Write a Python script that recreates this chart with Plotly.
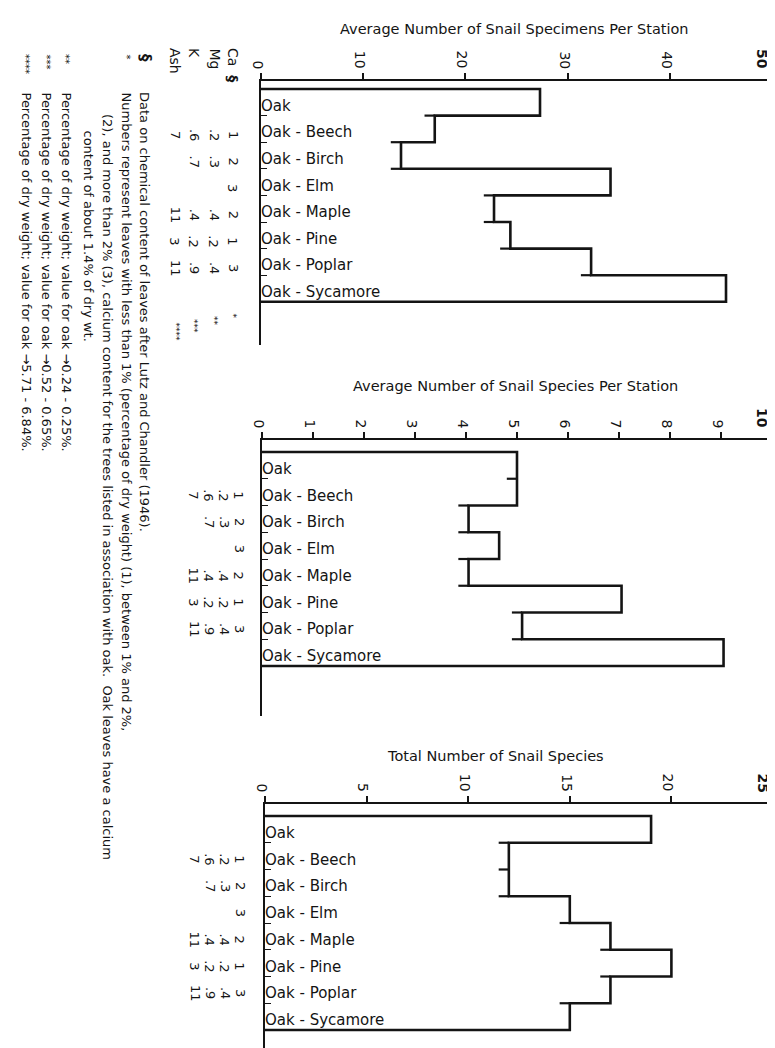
import plotly.graph_objects as go

W, H = 775, 1048
FONT = "DejaVu Sans"
INK = "#141414"

# ---------------- data ----------------
categories = ["Oak", "Oak - Beech", "Oak - Birch", "Oak - Elm",
              "Oak - Maple", "Oak - Pine", "Oak - Poplar", "Oak - Sycamore"]
specimens_per_station = [27.3, 17.0, 13.7, 34.2, 22.8, 24.4, 32.3, 45.5]
species_per_station = [5.0, 5.0, 4.05, 4.65, 4.05, 7.05, 5.1, 9.05]
total_species = [19, 12, 12, 15, 17, 20, 17, 15]

ticks_specimens = [0, 10, 20, 30, 40, 50]
ticks_species = [0, 1, 2, 3, 4, 5, 6, 7, 8, 9, 10]
ticks_total = [0, 5, 10, 15, 20, 25]

titles = ["Average Number of Snail Specimens Per Station",
          "Average Number of Snail Species Per Station",
          "Total Number of Snail Species"]

# chemical content of leaves (per category row)
ca = ["", "1", "2", "3", "2", "1", "3", ""]
mg = ["", ".2", ".3", "", ".4", ".2", ".4", ""]
k_ = ["", ".6", ".7", "", ".4", ".2", ".9", ""]
ash = ["", "7", "", "", "11", "3", "11", ""]
chem_headers = ["Ca  <b>§</b>", "Mg", "K", "Ash"]
chem_marks = ["*", "**", "***", "****"]

notes = [
    ("<b>§</b>", "Data on chemical content of leaves after Lutz and Chandler (1946)."),
    ("*", "Numbers represent leaves with less than 1% (percentage of dry weight) (1), between 1% and 2%,"),
    ("", "(2), and more than 2% (3), calcium content for the trees listed in association with oak.  Oak leaves have a calcium"),
    ("", "content of about 1.4% of dry wt."),
    ("**", "Percentage of dry weight; value for oak \u21920.24 - 0.25%."),
    ("***", "Percentage of dry weight; value for oak \u21920.52 - 0.65%."),
    ("****", "Percentage of dry weight; value for oak \u21925.71 - 6.84%."),
]

# ---------------- layout geometry (pixels) ----------------
panels = [
    dict(vals=specimens_per_station, ticks=ticks_specimens, xmax=50,
         x0=253, x1=764, axis_y=73, top=81, h=26.6, end=337, tx=506, ty=21,
         cols=[225, 206, 186, 167], dy=6),
    dict(vals=species_per_station, ticks=ticks_species, xmax=10,
         x0=254, x1=764, axis_y=432, top=444, h=26.75, end=708, tx=507, ty=378,
         cols=[231, 216, 201, 186], dy=3),
    dict(vals=total_species, ticks=ticks_total, xmax=25,
         x0=257, x1=765, axis_y=796, top=808, h=26.75, end=1048, tx=487, ty=748,
         cols=[232, 217, 202, 187], dy=3),
]

fig = go.Figure()


def px_x(x):
    return x / W


def px_y(y):
    return 1 - y / H


def rot(x, y, text, size=14, yanchor="middle", xanchor="center"):
    fig.add_annotation(x=px_x(x), y=px_y(y), xref="paper", yref="paper",
                       text=text, textangle=90, showarrow=False,
                       xanchor=xanchor, yanchor=yanchor,
                       font=dict(family=FONT, size=size, color=INK))


layout_axes = {}
for i, p in enumerate(panels, start=1):
    xa = "x" if i == 1 else f"x{i}"
    ya = "y" if i == 1 else f"y{i}"
    v = p["vals"]
    n = len(v)

    # stepped outline of the bars
    xs, ys = [0], [-0.5]
    for j, val in enumerate(v):
        xs += [val, val]
        ys += [j - 0.5, j + 0.5]
    xs.append(0)
    ys.append(n - 0.5)
    fig.add_trace(go.Scatter(x=xs, y=ys, mode="lines",
                             line=dict(color=INK, width=2.6),
                             xaxis=xa, yaxis=ya, hoverinfo="skip", showlegend=False))

    # small overshoots at the steps
    d = 0.02 * p["xmax"]
    sx, sy = [], []
    for j in range(n - 1):
        m = min(v[j], v[j + 1])
        sx += [m - d, m, None]
        sy += [j + 0.5, j + 0.5, None]
    fig.add_trace(go.Scatter(x=sx, y=sy, mode="lines",
                             line=dict(color=INK, width=2.2),
                             xaxis=xa, yaxis=ya, hoverinfo="skip", showlegend=False))

    # category labels
    fig.add_trace(go.Scatter(x=[0] * n, y=[j + 0.18 for j in range(n)], mode="text",
                             text=categories, textposition="middle right",
                             textfont=dict(family=FONT, size=15, color=INK),
                             cliponaxis=False,
                             xaxis=xa, yaxis=ya, hoverinfo="skip", showlegend=False))

    ytop = -0.5 - (p["top"] - p["axis_y"]) / p["h"]
    ybot = -0.5 + (p["end"] - p["top"]) / p["h"]

    layout_axes["xaxis" if i == 1 else f"xaxis{i}"] = dict(
        domain=[px_x(p["x0"]), px_x(p["x1"])], range=[0, p["xmax"]],
        side="top", anchor=ya, showline=True, linecolor=INK, linewidth=2,
        ticks="outside", ticklen=6, tickwidth=1.5, tickcolor=INK,
        tickvals=p["ticks"], showticklabels=False,
        showgrid=False, zeroline=False, fixedrange=True)
    layout_axes["yaxis" if i == 1 else f"yaxis{i}"] = dict(
        domain=[max(0, px_y(p["end"])), px_y(p["axis_y"])], range=[ybot, ytop],
        anchor=xa, showline=True, linecolor=INK, linewidth=1.6,
        ticks="inside", ticklen=6, tickwidth=1.2, tickcolor=INK,
        tickvals=[j + 0.5 for j in range(n - 1)], showticklabels=False,
        showgrid=False, zeroline=False, fixedrange=True)

    # rotated tick labels, centred on the ticks
    for t in p["ticks"]:
        last = t == p["ticks"][-1]
        fig.add_annotation(x=t, xref=xa, y=px_y(p["axis_y"] - 11), yref="paper",
                           text=f"<b>{t}</b>" if last else str(t),
                           textangle=90, showarrow=False,
                           xanchor="center", yanchor="bottom",
                           xshift=-10 if last else -3, borderpad=0,
                           font=dict(family=FONT, size=14, color=INK))

    # panel title
    fig.add_annotation(x=px_x(p["tx"]), y=px_y(p["ty"]), xref="paper", yref="paper",
                       text=titles[i - 1], showarrow=False, xanchor="center", yanchor="middle",
                       font=dict(family=FONT, size=14.5, color=INK))

    # chemical content table beside the panel
    for col, series in zip(p["cols"], [ca, mg, k_, ash]):
        for j, t in enumerate(series):
            if t:
                rot(col, p["top"] + p["h"] * (j + 0.5) + p["dy"], t, size=13)

# headers and footnote marks of the chemical table (first panel)
for col, hdr in zip(panels[0]["cols"], chem_headers):
    rot(col, 38, hdr, size=14, yanchor="top")
for col, mk, yy in zip(panels[0]["cols"], chem_marks, [303, 306, 309, 312]):
    rot(col, yy, mk, size=9, yanchor="top")

# footnotes along the left edge
note_x = [137, 118, 100, 80, 58, 38, 18]
note_y = [82, 82, 104, 120, 82, 82, 82]
for (mark, txt), nx, ny in zip(notes, note_x, note_y):
    if mark:
        rot(nx, 44, mark, size=10 if mark != "<b>§</b>" else 15, yanchor="top")
    rot(nx, ny, txt, size=13, yanchor="top")

fig.update_layout(width=W, height=H, margin=dict(l=0, r=0, t=0, b=0),
                  paper_bgcolor="white", plot_bgcolor="white",
                  showlegend=False, **layout_axes)

fig.write_html("out.html")
